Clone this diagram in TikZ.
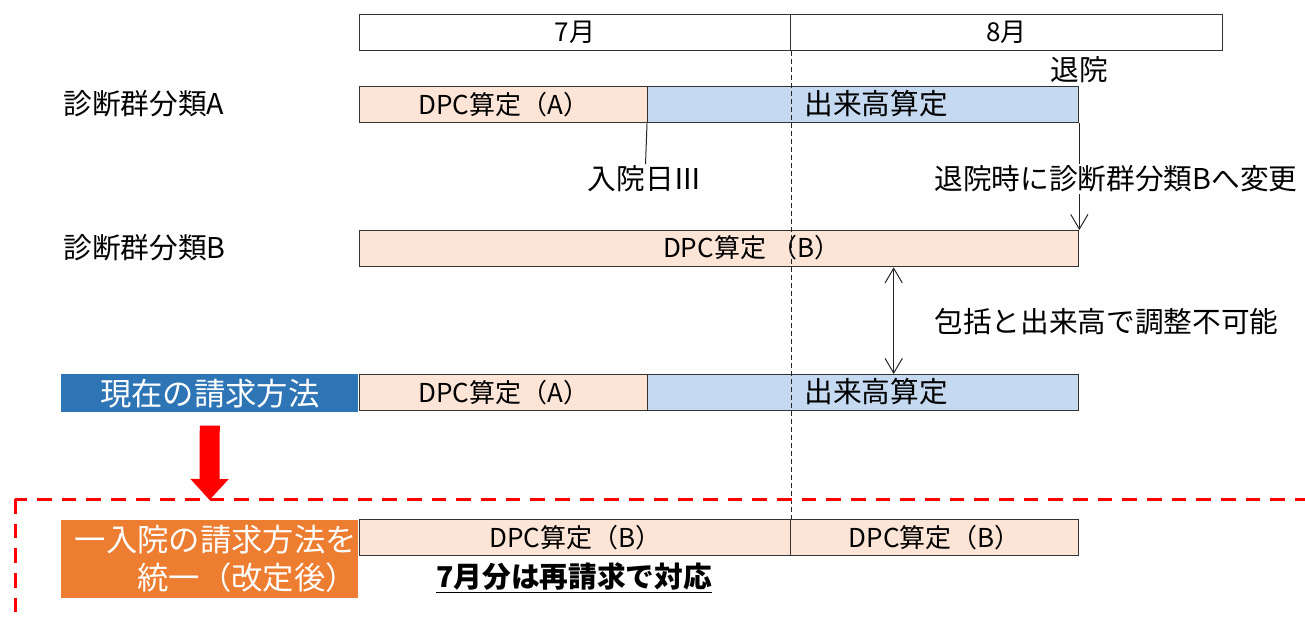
\documentclass[tikz,border=0pt]{standalone}
\usepackage{fontspec}
\setmainfont{Noto Sans CJK JP}
\usepackage{xcolor}
\usepackage{tikz}
\usetikzlibrary{positioning,arrows.meta}

\definecolor{peach}{HTML}{FCE4D6}
\definecolor{paleblue}{HTML}{C5D9F1}
\definecolor{nowblue}{HTML}{2E75B6}
\definecolor{neworange}{HTML}{ED7D31}
\newcommand{\barfont}{\fontsize{19.5}{23}\selectfont}
\newcommand{\lblfont}{\fontsize{21.5}{25}\selectfont}
\newcommand{\bigfont}{\fontsize{23.5}{28.5}\selectfont}

\begin{document}
\begin{tikzpicture}[x=0.75pt,y=-0.75pt,
  cell/.style={draw=black!80,line width=1pt,minimum height=27pt,inner sep=0pt,anchor=north west,font=\barfont},
  dpc/.style={cell,fill=peach},
  dkd/.style={cell,fill=paleblue},
  lbl/.style={inner sep=1pt,font=\lblfont},
  thin/.style={line width=0.75pt,black!85},
  tip/.style={thin,-{Straight Barb[length=11pt,width=13pt]}},
  dbltip/.style={thin,{Straight Barb[length=11pt,width=13pt]}-{Straight Barb[length=11pt,width=13pt]}},
  tag/.style={text=white,inner sep=1pt,minimum width=222.75pt,anchor=north west,font=\bigfont}
]
\useasboundingbox (0,0) rectangle (1305,617);

% months
\node[cell,minimum width=323.25pt] (m7) at (359,14) {7月};
\node[cell,minimum width=324pt] (m8) at (790,14) {8月};

% diagnosis group A
\node[lbl,anchor=west] (ga) at (62,104) {診断群分類A};
\node[dpc,minimum width=216pt] (a1) at (359,86) {DPC算定（A）};
\node[dkd,minimum width=323.25pt] (a2) at (647,86) {};
\node[lbl,anchor=west] (a2t) at (803,104) {出来高算定};
\node[lbl] (out) at (1079,70) {退院};
\node[lbl] (admit) at (645,179) {入院日Ⅲ};
\node[lbl,anchor=west] (chg) at (933,179) {退院時に診断群分類Bへ変更};

% diagnosis group B
\node[lbl,anchor=west] (gb) at (62,248) {診断群分類B};
\node[dpc,minimum width=539.25pt] (b1) at (359,230) {};
\node[font=\barfont] (b1t) at (752,248) {DPC算定 （B）};
\node[lbl,anchor=west] (adj) at (933,322) {包括と出来高で調整不可能};

% current billing
\node[tag,fill=nowblue,minimum height=28.5pt] (now) at (61,374) {現在の請求方法};
\node[dpc,minimum width=216pt] (c1) at (359,374) {DPC算定（A）};
\node[dkd,minimum width=323.25pt] (c2) at (647,374) {};
\node[lbl,anchor=west] (c2t) at (803,392) {出来高算定};

% revised billing
\node[tag,fill=neworange,minimum height=58.5pt,text width=220.75pt,align=right] (new) at (61,520) {一入院の請求方法を\\統一（改定後）};
\node[dpc,minimum width=323.25pt] (d1) at (359,519) {DPC算定（B）};
\node[dpc,minimum width=216pt] (d2) at (790,519) {DPC算定（B）};
\node[font=\lblfont\bfseries,anchor=west,inner sep=0pt] (redo) at (436,578) {\underline{7月分は再請求で対応}};

\coordinate (drop) at (209.5,500);

\draw[thin,dash pattern=on 3.5pt off 2.5pt] (m7.south east) -- (d1.north east);
\draw[thin] (a2.south west) -- (admit);
\draw[thin] (a2.south east) -- (a2.south east |- chg.north);
\draw[tip] (a2.south east |- chg.south) -- (b1.north east);
\draw[dbltip] ([xshift=130.875pt]b1.south) -- ([xshift=130.875pt]b1.south |- c2.north);
\draw[red,line width=15pt,-{Triangle[length=15.75pt,width=27.75pt]}] ([yshift=-9.75pt]now.south) -- (drop);

% dashed frame
\draw[red,line width=2.25pt,dash pattern=on 11pt off 7.5pt] (15,499) rectangle (1340,660);

\end{tikzpicture}
\end{document}
